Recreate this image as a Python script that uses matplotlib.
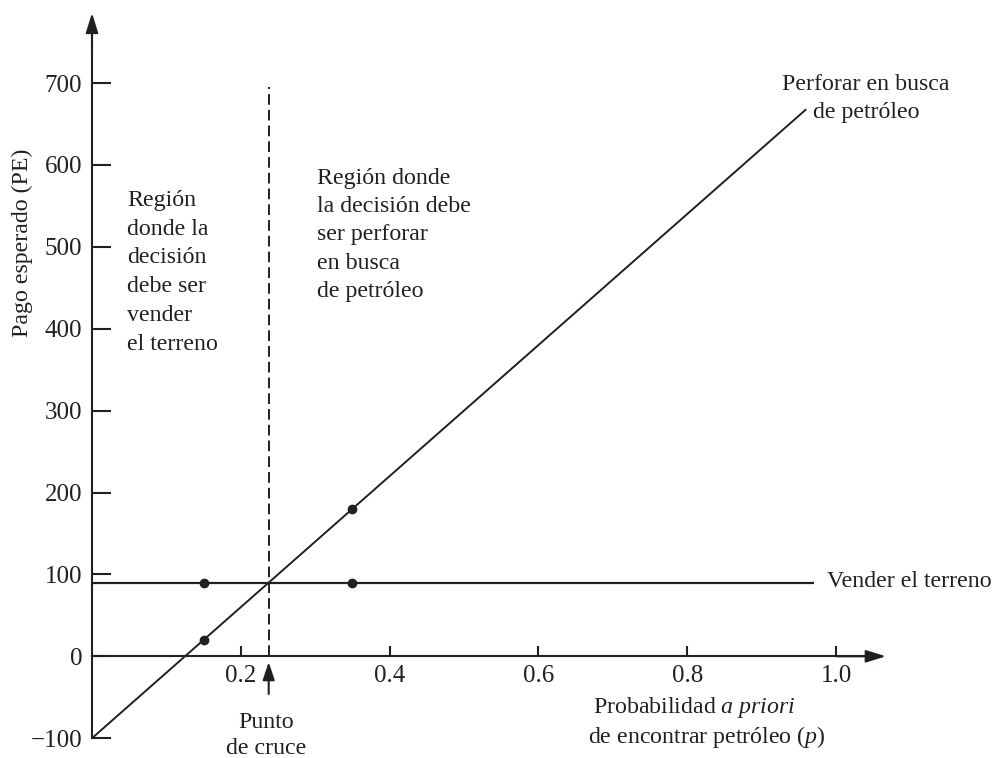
import matplotlib
matplotlib.use('Agg')
import matplotlib.pyplot as plt

plt.rcParams['font.family'] = 'Liberation Serif'
plt.rcParams['mathtext.fontset'] = 'custom'
plt.rcParams['mathtext.rm'] = 'Liberation Serif'
plt.rcParams['mathtext.it'] = 'Liberation Serif:italic'

# pago esperado de cada alternativa segun la probabilidad a priori p
perforar_p = [0.0, 0.96]
perforar_pe = [-100, 668]
vender_p = [0.0, 0.97]
vender_pe = [90, 90]

puntos_p = [0.15, 0.15, 0.35, 0.35]
puntos_pe = [20, 90, 180, 90]

p_cruce = 0.2375

xticks = [0.2, 0.4, 0.6, 0.8, 1.0]
xlabels = ['0.2', '0.4', '0.6', '0.8', '1.0']
yticks = [-100, 0, 100, 200, 300, 400, 500, 600, 700]
ylabels = ['\u2212100', '0', '100', '200', '300', '400', '500', '600', '700']

# conversion de pixeles de la figura a datos (eje x: 0 en 92 px, 744 px por unidad)
def px(x):
    return (x - 92) / 744.0

def py(y):
    return (656.3 - y) / 0.819

fig = plt.figure(figsize=(10.07, 7.58), dpi=100)
ax = fig.add_axes([0, 0, 1, 1])
ax.set_xlim(px(0), px(1007))
ax.set_ylim(py(758), py(0))
ax.patch.set_alpha(0)

negro = '#231f20'
fs = 17.2
fs_ticks = 18

# ejes con flechas
for s in ['top', 'right']:
    ax.spines[s].set_visible(False)
ax.spines['left'].set_position(('data', 0))
ax.spines['bottom'].set_position(('data', 0))
ax.spines['left'].set_bounds(-100, 775)
ax.spines['bottom'].set_bounds(0, 1.05)
for s in ['left', 'bottom']:
    ax.spines[s].set_color(negro)
    ax.spines[s].set_linewidth(1.5)

ax.annotate('', xy=(0, 785.5), xytext=(0, 740),
            arrowprops=dict(arrowstyle='-|>,head_length=0.8,head_width=0.25',
                            mutation_scale=15, color=negro, lw=1.5, shrinkA=0, shrinkB=0))
ax.annotate('', xy=(1.067, 0), xytext=(1.0, 0),
            arrowprops=dict(arrowstyle='-|>,head_length=0.8,head_width=0.25',
                            mutation_scale=15, color=negro, lw=1.5, shrinkA=0, shrinkB=0))

ax.set_xticks(xticks)
ax.set_xticklabels(xlabels)
ax.set_yticks(yticks)
ax.set_yticklabels(ylabels)
ax.tick_params(axis='y', direction='in', length=14, width=1.5, color=negro,
               labelsize=fs_ticks, labelcolor=negro, pad=7)
ax.tick_params(axis='x', direction='in', length=7.5, width=1.5, color=negro,
               labelsize=fs_ticks, labelcolor=negro, pad=6)

# rectas de pago esperado
ax.plot(perforar_p, perforar_pe, color=negro, lw=1.4, solid_capstyle='butt')
ax.plot(vender_p, vender_pe, color=negro, lw=1.6, solid_capstyle='butt')
ax.plot(puntos_p, puntos_pe, 'o', color=negro, ms=6, ls='none')

# punto de cruce
ax.plot([p_cruce, p_cruce], [0, 695], color=negro, lw=1.4, dashes=[5.5, 2.6])
ax.annotate('', xy=(p_cruce, py(662)), xytext=(p_cruce, py(694)),
            arrowprops=dict(arrowstyle='-|>,head_length=0.9,head_width=0.3',
                            mutation_scale=12, color=negro, lw=1.5, shrinkA=0, shrinkB=0))

def lineas(x0, y0, paso, textos, ha='left'):
    for i, t in enumerate(textos):
        ax.text(px(x0), py(y0 + i * paso), t, ha=ha, va='baseline',
                fontsize=fs, color=negro)

lineas(127, 206, 28.7, ['Región', 'donde la', 'decisión', 'debe ser',
                        'vender', 'el terreno'])
lineas(317, 184, 28.2, ['Región donde', 'la decisión debe', 'ser perforar',
                        'en busca', 'de petróleo'])
lineas(866, 90, 28, ['Perforar en busca', 'de petróleo'], ha='center')
lineas(827, 587, 0, ['Vender el terreno'])
lineas(266, 728, 26, ['Punto', 'de cruce'], ha='center')

ax.text(px(593), py(713), r'Probabilidad $\mathit{a\ priori}$', ha='left',
        va='baseline', fontsize=fs, color=negro)
ax.text(px(588), py(743), r'de encontrar petróleo ($\mathit{p}$)', ha='left',
        va='baseline', fontsize=fs, color=negro)

ax.text(px(22), py(243), 'Pago esperado (PE)', rotation=90, ha='center',
        va='center', fontsize=fs, color=negro)

fig.savefig('out.png', dpi=100, facecolor='white')
